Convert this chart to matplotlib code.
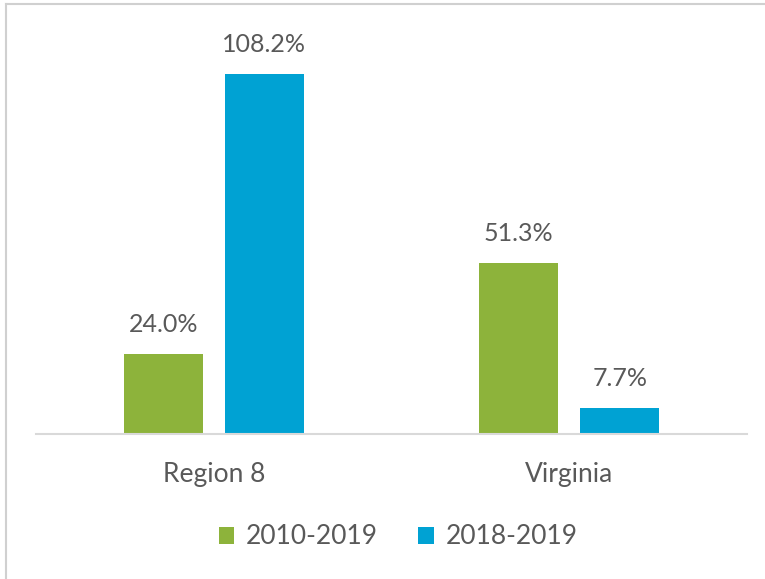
import matplotlib.pyplot as plt
import numpy as np
from matplotlib.lines import Line2D

regions = ["Region 8", "Virginia"]
series = ["2010-2019", "2018-2019"]
growth_long = [24.0, 51.3]
growth_short = [108.2, 7.7]
colors = ["#8db33b", "#00a2d3"]
text_color = "#595959"

plt.rcParams["font.family"] = ["Lato", "DejaVu Sans"]

fig = plt.figure(figsize=(7.65, 5.79), dpi=100)
ax = fig.add_axes([36 / 765, 145 / 579, 711 / 765, 404 / 579])

x = np.arange(len(regions))
width = 0.222
offset = 0.142
for vals, dx, c, name in [(growth_long, -offset, colors[0], series[0]),
                          (growth_short, offset, colors[1], series[1])]:
    bars = ax.bar(x + dx, vals, width, color=c, label=name)
    for b, v in zip(bars, vals):
        ax.text(b.get_x() + b.get_width() / 2, v + 5.5, f"{v:.1f}%",
                ha="center", va="bottom", fontsize=18, color=text_color)

ax.set_xlim(-0.5, 1.5)
ax.set_ylim(0, 121.4)
ax.set_yticks([])
ax.set_xticks(x)
ax.set_xticklabels(regions, fontsize=19, color=text_color)
ax.tick_params(axis="x", length=0, pad=20)
for s in ["top", "right", "left"]:
    ax.spines[s].set_visible(False)
ax.spines["bottom"].set_color("#d9d9d9")
ax.spines["bottom"].set_linewidth(1.5)

ax.legend(loc="center", bbox_to_anchor=(398 / 765, 1 - 537 / 579),
          bbox_transform=fig.transFigure, ncol=2, frameon=False,
          fontsize=19, labelcolor=text_color, handlelength=0.6,
          handleheight=0.6, handletextpad=0.45, columnspacing=1.5)

# thin frame along the top and left edge
fig.add_artist(Line2D([6 / 765, 1], [1 - 4 / 579] * 2,
                      transform=fig.transFigure, color="#d0d0d0", lw=1.5))
fig.add_artist(Line2D([6 / 765] * 2, [0, 1 - 4 / 579],
                      transform=fig.transFigure, color="#d0d0d0", lw=1.5))

fig.savefig("out.png", dpi=100)
